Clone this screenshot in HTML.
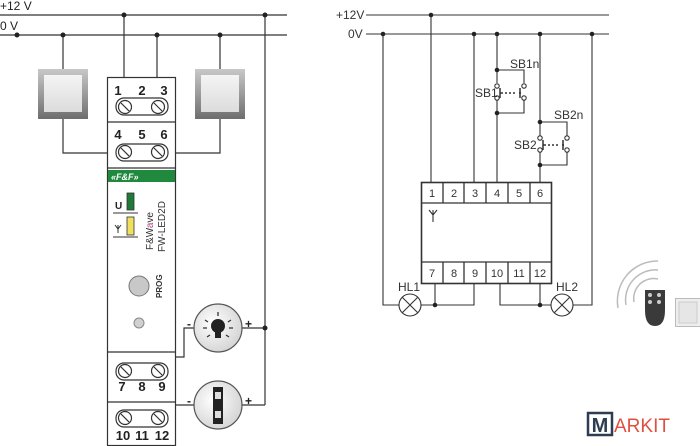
<!DOCTYPE html>
<html><head><style>html,body{margin:0;padding:0;background:#fff}svg{display:block}</style></head><body>
<svg width="700" height="446" viewBox="0 0 700 446" xmlns="http://www.w3.org/2000/svg" font-family="Liberation Sans, sans-serif">
<defs>
<linearGradient id="sw" x1="0" y1="0" x2="0" y2="1"><stop offset="0" stop-color="#c8c8c8"/><stop offset="1" stop-color="#6e6e6e"/></linearGradient>
<linearGradient id="swi" x1="0" y1="0" x2="0" y2="1"><stop offset="0" stop-color="#f4f4f4"/><stop offset="1" stop-color="#dcdcdc"/></linearGradient>
<radialGradient id="cg" cx="0.4" cy="0.4" r="0.7"><stop offset="0" stop-color="#fff"/><stop offset="1" stop-color="#d0d0d0"/></radialGradient>
</defs>
<g stroke="#333" stroke-width="1.2" fill="none">
<line x1="0" y1="15" x2="287" y2="15"/><line x1="0" y1="35" x2="287" y2="35"/>
<line x1="124" y1="15" x2="124" y2="77"/><line x1="157" y1="35" x2="157" y2="77"/>
<line x1="63" y1="35" x2="63" y2="69"/><polyline points="63,119 63,153 107,153"/>
<line x1="220" y1="35" x2="220" y2="69"/><polyline points="220,119 220,153 175,153"/>
<line x1="265" y1="15" x2="265" y2="405"/>
<polyline points="125,357 184,357 184,328 194,328"/><line x1="242" y1="328" x2="265" y2="328"/>
<line x1="125" y1="357" x2="125" y2="364"/>
<line x1="125" y1="405" x2="194" y2="405"/><line x1="125" y1="405" x2="125" y2="411"/><line x1="242" y1="405" x2="265" y2="405"/>
</g>
<g fill="#222">
<circle cx="124" cy="15" r="2.5"/><circle cx="265" cy="15" r="2.5"/>
<circle cx="17" cy="35" r="2.5"/><circle cx="63" cy="35" r="2.5"/><circle cx="157" cy="35" r="2.5"/><circle cx="220" cy="35" r="2.5"/>
<circle cx="265" cy="328" r="2.5"/><circle cx="159" cy="357" r="2.5"/><circle cx="159" cy="405" r="2.5"/>
</g>
<text x="0" y="10" font-size="12" fill="#222">+12 V</text>
<text x="0" y="30" font-size="12" fill="#222">0 V</text>
<rect x="38" y="69" width="50" height="50" fill="url(#sw)"/><rect x="44" y="75" width="38" height="37" fill="url(#swi)"/>
<rect x="195" y="69" width="50" height="50" fill="url(#sw)"/><rect x="201" y="75" width="38" height="37" fill="url(#swi)"/>
<rect x="107.5" y="77.5" width="68" height="368" fill="#fff" stroke="#333" stroke-width="1.2"/>
<g stroke="#333" stroke-width="1.2">
<line x1="107" y1="122" x2="175" y2="122"/><line x1="107" y1="168" x2="175" y2="168"/>
<line x1="107" y1="352" x2="175" y2="352"/><line x1="107" y1="402" x2="175" y2="402"/>
</g>
<rect x="108" y="170" width="67" height="12" fill="#1f8a3e"/>
<text x="111" y="180" font-size="9" font-weight="bold" font-style="italic" fill="#fff">«F&amp;F»</text>
<g font-size="13" font-weight="bold" fill="#222" text-anchor="middle">
<text x="118" y="95">1</text><text x="142" y="95">2</text><text x="164" y="95">3</text>
<text x="118" y="139">4</text><text x="142" y="139">5</text><text x="164" y="139">6</text>
<text x="122" y="391">7</text><text x="142" y="391">8</text><text x="162" y="391">9</text>
<text x="123" y="440">10</text><text x="142" y="440">11</text><text x="162" y="440">12</text>
</g>
<g stroke="#333" stroke-width="1.2" fill="#fff">
<rect x="116" y="98" width="52" height="17" rx="8"/>
<rect x="116" y="144" width="52" height="17" rx="8"/>
<rect x="116" y="363" width="52" height="17" rx="8"/>
<rect x="116" y="410" width="52" height="17" rx="8"/>
<circle cx="125" cy="107" r="6.5"/><circle cx="158" cy="107" r="6.5"/>
<circle cx="125" cy="152" r="6.5"/><circle cx="158" cy="152" r="6.5"/>
<circle cx="125" cy="371" r="6.5"/><circle cx="158" cy="371" r="6.5"/>
<circle cx="125" cy="418" r="6.5"/><circle cx="158" cy="418" r="6.5"/>
<path d="M121 103l8 8M154 103l8 8M121 148l8 8M154 148l8 8M121 367l8 8M154 367l8 8M121 414l8 8M154 414l8 8"/>
</g>
<text x="115" y="209" font-size="10" font-weight="bold" fill="#222">U</text>
<rect x="127" y="193" width="7" height="17" fill="#1f7a3a" stroke="#333" stroke-width="0.8"/>
<line x1="113" y1="213" x2="138" y2="213" stroke="#333"/>
<rect x="127" y="217" width="7" height="18" fill="#f0e060" stroke="#333" stroke-width="0.8"/>
<path d="M115 225l3 4 3-4M118 225v8" stroke="#333" fill="none"/>
<line x1="113" y1="237" x2="138" y2="237" stroke="#333"/>
<text transform="translate(153,250) rotate(-90)" font-size="10" fill="#333">F&amp;W<tspan fill="#b04080">a</tspan>ve</text>
<text transform="translate(165,252) rotate(-90)" font-size="10" fill="#333">FW-LED2D</text>
<circle cx="139" cy="286" r="10" fill="#c8c8c8" stroke="#777"/>
<text transform="translate(162,298) rotate(-90)" font-size="8" font-weight="bold" fill="#333">PROG</text>
<circle cx="139" cy="323" r="5" fill="#d0d0d0" stroke="#888"/>
<circle cx="218" cy="328" r="24" fill="url(#cg)" stroke="#555" stroke-width="1.2"/>
<circle cx="218" cy="326" r="7" fill="#222"/><rect x="215" y="330" width="6" height="8" fill="#222"/>
<g stroke="#333" stroke-width="1.3"><path d="M218 312v4M205 320l3 2M231 320l-3 2M203 328h4M229 328h4M207 337l3-2M229 337l-3-2"/></g>
<text x="187" y="328" font-size="12" font-weight="bold" fill="#222">-</text>
<text x="245" y="328" font-size="12" font-weight="bold" fill="#222">+</text>
<circle cx="218" cy="405" r="24" fill="url(#cg)" stroke="#555" stroke-width="1.2"/>
<rect x="213" y="387" width="10" height="37" fill="#222"/>
<rect x="215" y="392" width="6" height="7" fill="#ddd"/><rect x="215" y="411" width="6" height="7" fill="#ddd"/>
<text x="187" y="405" font-size="12" font-weight="bold" fill="#222">-</text>
<text x="245" y="405" font-size="12" font-weight="bold" fill="#222">+</text>

<g stroke="#333" stroke-width="1.1" fill="none">
<line x1="366" y1="15" x2="609" y2="15"/><line x1="366" y1="34" x2="609" y2="34"/>
<line x1="431" y1="15" x2="431" y2="182"/><line x1="474" y1="34" x2="474" y2="182"/>
<line x1="497" y1="34" x2="497" y2="83"/><line x1="497" y1="100" x2="497" y2="182"/>
<polyline points="497,70 524,70 524,83"/><polyline points="497,113 524,113 524,100"/>
<line x1="540" y1="34" x2="540" y2="136"/><line x1="540" y1="152" x2="540" y2="182"/>
<polyline points="540,122 567,122 567,136"/><polyline points="540,165 567,165 567,152"/>
<path d="M500 88v10M500 93h3M505 93h2M509 93h2M513 93h2M519 93h2M520 88v10" stroke-width="1.5"/>
<path d="M543 140v10M543 145h3M548 145h2M552 145h2M556 145h2M562 145h2M563 140v10" stroke-width="1.5"/>
<polyline points="383,34 383,305 399,305"/><polyline points="421,305 474,305 474,283"/><line x1="435" y1="283" x2="435" y2="305"/>
<polyline points="500,283 500,305 551,305"/><line x1="540" y1="283" x2="540" y2="305"/><polyline points="573,305 592,305 592,34"/>
<circle cx="410" cy="305" r="11"/><path d="M402 297l16 16M418 297l-16 16"/>
<circle cx="562" cy="305" r="11"/><path d="M554 297l16 16M570 297l-16 16"/>
<path d="M433 210v12M429 210l4 5 4-5"/>
</g>
<g fill="#fff" stroke="#333" stroke-width="1.1">
<circle cx="497" cy="86" r="2.2"/><circle cx="497" cy="98" r="2.2"/><circle cx="524" cy="86" r="2.2"/><circle cx="524" cy="98" r="2.2"/>
<circle cx="540" cy="138" r="2.2"/><circle cx="540" cy="150" r="2.2"/><circle cx="567" cy="138" r="2.2"/><circle cx="567" cy="150" r="2.2"/>
</g>
<g fill="#222">
<circle cx="431" cy="15" r="2.3"/><circle cx="383" cy="34" r="2.3"/><circle cx="474" cy="34" r="2.3"/><circle cx="497" cy="34" r="2.3"/><circle cx="540" cy="34" r="2.3"/><circle cx="592" cy="34" r="2.3"/>
<circle cx="497" cy="70" r="2.3"/><circle cx="497" cy="113" r="2.3"/><circle cx="540" cy="122" r="2.3"/><circle cx="540" cy="165" r="2.3"/>
<circle cx="435" cy="305" r="2.3"/><circle cx="540" cy="305" r="2.3"/>
</g>
<rect x="421.5" y="182.5" width="130" height="101" fill="none" stroke="#333" stroke-width="1.6"/>
<g stroke="#333" stroke-width="1.3">
<line x1="421" y1="203" x2="551" y2="203"/><line x1="421" y1="262" x2="551" y2="262"/>
<path d="M443 182v21M464 182v21M486 182v21M508 182v21M530 182v21M443 262v21M464 262v21M486 262v21M508 262v21M530 262v21"/>
</g>
<g font-size="11" fill="#333" text-anchor="middle">
<text x="432" y="197">1</text><text x="454" y="197">2</text><text x="475" y="197">3</text><text x="497" y="197">4</text><text x="519" y="197">5</text><text x="540" y="197">6</text>
<text x="432" y="277">7</text><text x="454" y="277">8</text><text x="475" y="277">9</text><text x="497" y="277">10</text><text x="519" y="277">11</text><text x="540" y="277">12</text>
</g>
<g font-size="12" fill="#333">
<text x="336" y="19">+12V</text><text x="348" y="38">0V</text>
<text x="510" y="68">SB1n</text><text x="475" y="97">SB1</text>
<text x="554" y="119">SB2n</text><text x="514" y="149">SB2</text>
<text x="398" y="291">HL1</text><text x="556" y="291">HL2</text>
</g>
<g fill="none" stroke="#bbb" stroke-width="1.5">
<path d="M618 308a40 40 0 0 1 40 -47"/><path d="M626 305a30 30 0 0 1 32 -35"/><path d="M634 302a20 20 0 0 1 24 -23"/>
</g>
<path d="M645 290h20v20q0 16 -10 16q-10 0 -10 -16z" fill="#3a3a3a"/>
<g fill="#ccc"><circle cx="650" cy="295" r="2"/><circle cx="659" cy="295" r="2"/><circle cx="650" cy="302" r="2"/><circle cx="659" cy="302" r="2"/></g>
<rect x="675.5" y="298.5" width="25" height="28" fill="#eee" stroke="#bbb"/><rect x="679" y="302" width="18" height="21" fill="#e6e6e6" stroke="#ccc"/>
<rect x="588" y="413" width="24" height="22" fill="#fff" stroke="#2d3e50" stroke-width="2.5"/>
<text x="600" y="432" font-size="20" font-weight="bold" fill="#2d3e50" text-anchor="middle">M</text>
<text x="614" y="432" font-size="19" fill="#e05040">ARKIT</text>
</svg>
</body></html>
